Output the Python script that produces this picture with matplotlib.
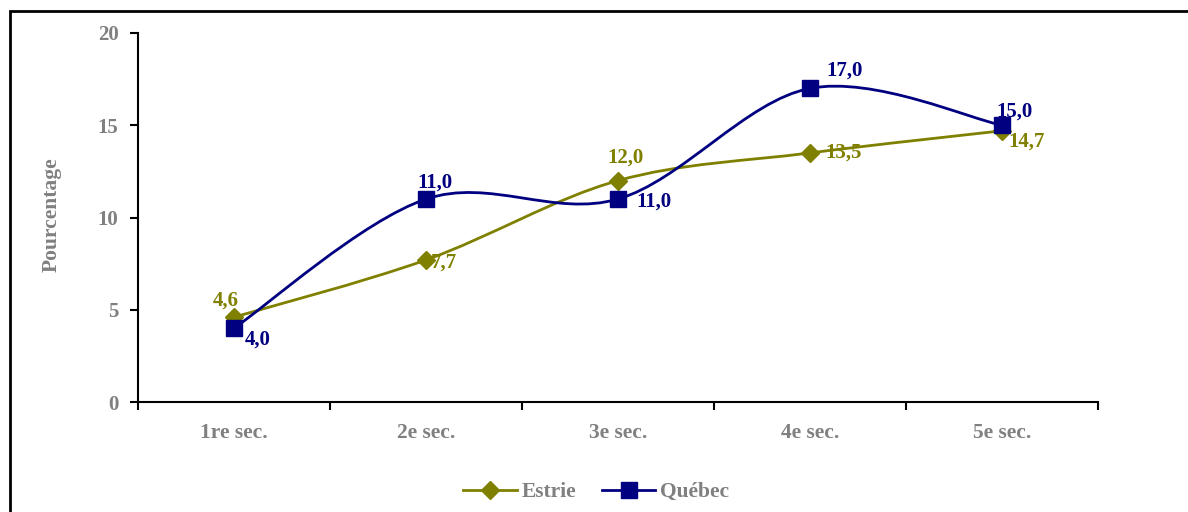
import matplotlib
matplotlib.use("Agg")
from matplotlib import pyplot as plt
from matplotlib.path import Path
from matplotlib.patches import PathPatch, Rectangle
from matplotlib.lines import Line2D
import numpy as np

categories = ["1re sec.", "2e sec.", "3e sec.", "4e sec.", "5e sec."]
estrie = [4.6, 7.7, 12.0, 13.5, 14.7]
quebec = [4.0, 11.0, 11.0, 17.0, 15.0]
estrie_labels = ["4,6", "7,7", "12,0", "13,5", "14,7"]
quebec_labels = ["4,0", "11,0", "11,0", "17,0", "15,0"]

olive = "#808000"
navy = "#000080"
gray = "#808080"

plt.rcParams["font.family"] = ["Liberation Serif", "DejaVu Serif"]
plt.rcParams["font.weight"] = "bold"


def smooth_path(xs, ys):
    # excel-like smoothed line: cubic bezier through every point
    pts = np.column_stack([xs, ys]).astype(float)
    n = len(pts)
    verts = [pts[0]]
    codes = [Path.MOVETO]
    for i in range(n - 1):
        p0 = pts[i - 1] if i > 0 else pts[i]
        p1 = pts[i]
        p2 = pts[i + 1]
        p3 = pts[i + 2] if i + 2 < n else pts[i + 1]
        c1 = p1 + (p2 - p0) / 6.0
        c2 = p2 - (p3 - p1) / 6.0
        verts += [c1, c2, p2]
        codes += [Path.CURVE4] * 3
    return Path(verts, codes)


fig = plt.figure(figsize=(11.88, 5.12), dpi=100)
ax = fig.add_axes([138 / 1188, 1 - 402 / 512, (1098 - 138) / 1188, (402 - 33) / 512])

# outer frame (runs off the right and bottom edges)
fig.patches.append(Rectangle((9.5 / 1188, -0.1), 1.2, 1.1 - 10.5 / 512, transform=fig.transFigure,
                             fill=False, edgecolor="black", linewidth=2, clip_on=False))

x = np.arange(len(categories))
ax.add_patch(PathPatch(smooth_path(x, estrie), facecolor="none", edgecolor=olive, linewidth=2, zorder=2))
ax.add_patch(PathPatch(smooth_path(x, quebec), facecolor="none", edgecolor=navy, linewidth=2, zorder=3))
ax.plot(x, estrie, linestyle="none", marker="D", markersize=9, color=olive, zorder=4)
ax.plot(x, quebec, linestyle="none", marker="s", markersize=11, color=navy, zorder=5)

estrie_off = [(-6, 12), (12.5, -2), (5.5, 16.5), (24.5, 0), (18, -8)]
quebec_off = [(17, -8.5), (6.5, 12), (26, -2), (25, 12.5), (9, 9.5)]
for i in range(len(categories)):
    ax.annotate(estrie_labels[i], (x[i], estrie[i]), xytext=estrie_off[i], textcoords="offset points",
                ha="center", va="center", color=olive, fontsize=15, fontweight="bold", zorder=6)
    ax.annotate(quebec_labels[i], (x[i], quebec[i]), xytext=quebec_off[i], textcoords="offset points",
                ha="center", va="center", color=navy, fontsize=15, fontweight="bold", zorder=6)

ax.set_xlim(-0.5, len(categories) - 0.5)
ax.set_ylim(0, 20)
ax.set_yticks([0, 5, 10, 15, 20])
ax.set_xticks(np.arange(-0.5, len(categories), 1.0))
ax.set_xticklabels([])
ax.set_xticks(x, minor=True)
ax.set_xticklabels(categories, minor=True)
ax.tick_params(axis="x", which="minor", length=0, pad=15, labelsize=15.5, labelcolor=gray)
ax.tick_params(axis="x", which="major", length=6, width=1.5, direction="out")
ax.tick_params(axis="y", length=6, width=1.5, direction="out", labelsize=15, labelcolor=gray, pad=8)
for lab in ax.get_xticklabels(minor=True) + ax.get_yticklabels():
    lab.set_fontweight("bold")

for s in ["top", "right"]:
    ax.spines[s].set_visible(False)
for s in ["left", "bottom"]:
    ax.spines[s].set_linewidth(1.5)

fig.text(52 / 1188, 1 - 215 / 512, "Pourcentage", rotation=90, ha="center", va="center",
         color=gray, fontsize=15.5, fontweight="bold")

handles = [Line2D([], [], color=olive, linewidth=2, marker="D", markersize=9),
           Line2D([], [], color=navy, linewidth=2, marker="s", markersize=11)]
fig.legend(handles, ["Estrie", "Québec"], loc="center", bbox_to_anchor=(596 / 1188, 1 - 492 / 512),
           ncol=2, frameon=False, handlelength=2.5, handletextpad=0.2, columnspacing=1.2,
           prop={"size": 15.5, "weight": "bold"}, labelcolor=gray)

fig.savefig("out.png", dpi=100)
